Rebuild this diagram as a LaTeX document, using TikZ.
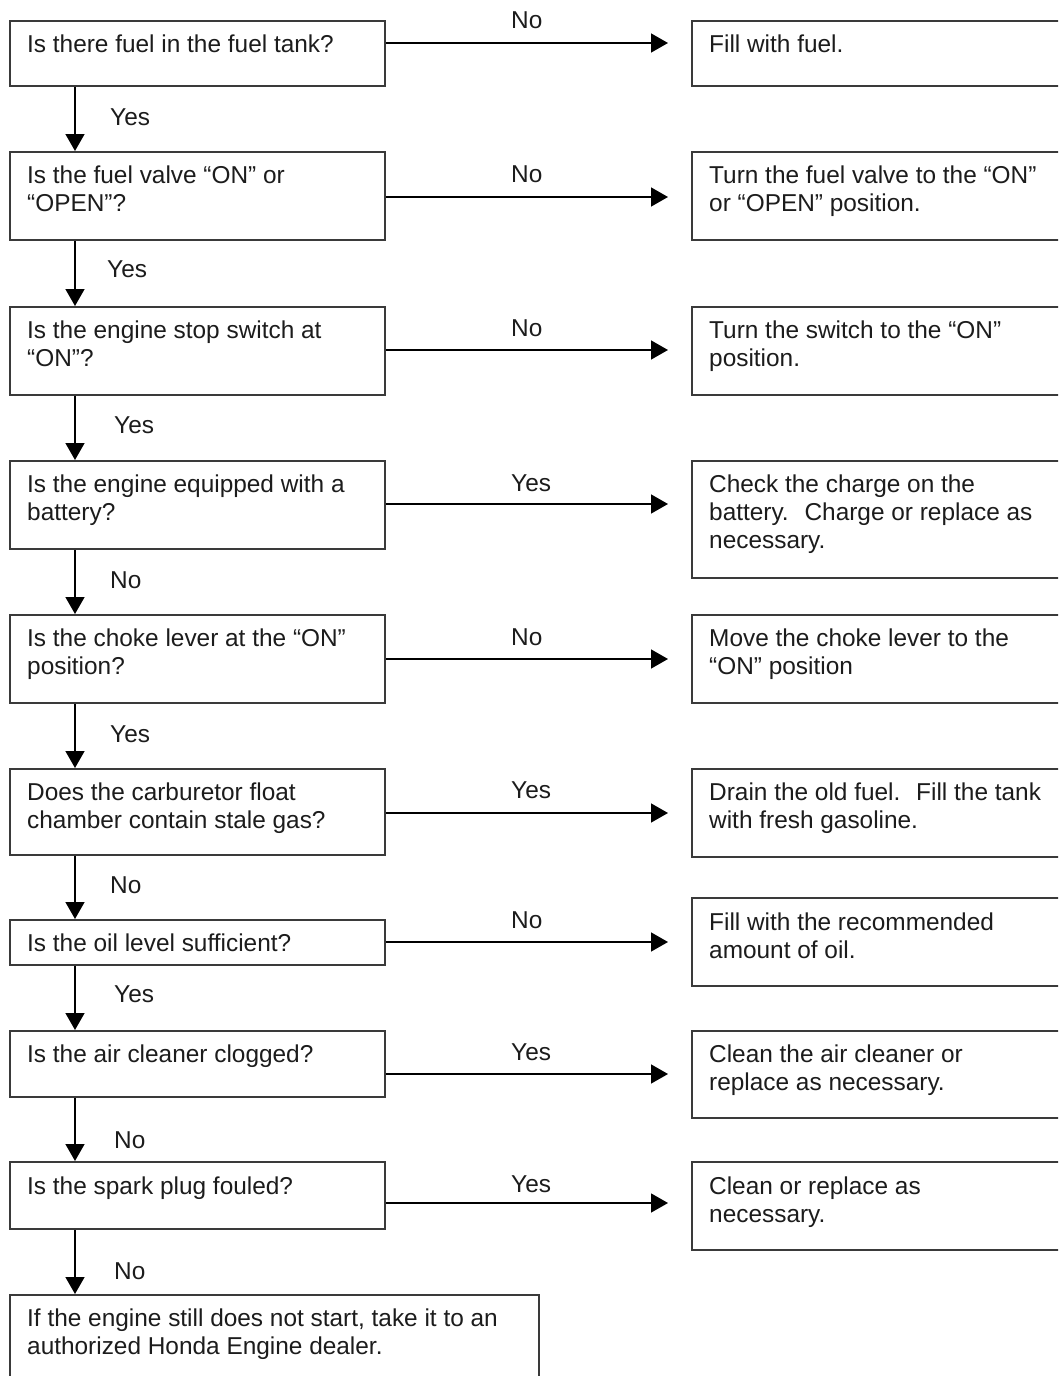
\documentclass[tikz,border=0pt]{standalone}
\usepackage{fontspec}
\setmainfont{Liberation Sans}
\usetikzlibrary{arrows.meta}
\newcommand\flowfont{\fontsize{24.4}{28}\selectfont}
\newcommand\topstrut{\rule{0pt}{20pt}}
\definecolor{bordc}{HTML}{3A3A3A}
\definecolor{txtc}{HTML}{1C1C1C}
\begin{document}
\begin{tikzpicture}[x=1pt,y=-1pt,
  lbox/.style={draw=bordc,line width=1.8pt,anchor=north west,inner sep=0pt,minimum width=375pt},
  rbox/.style={draw=bordc,line width=1.8pt,anchor=north west,inner sep=0pt,minimum width=420pt},
  txt/.style={anchor=north west,inner sep=0pt,align=left,font=\flowfont,text=txtc},
  lbl/.style={anchor=west,inner sep=0pt,font=\flowfont,text=txtc},
  arr/.style={line width=1.5pt,-{Triangle[length=17pt,width=19pt]}}]
\useasboundingbox (0,0) rectangle (1058,1376);
\fill[white] (0,0) rectangle (1058,1376);
\clip (0,0) rectangle (1058,1376);
% left column boxes
\node[lbox,minimum height=65pt] (q1) at (9,20) {};
\node[lbox,minimum height=88pt] (q2) at (9,151) {};
\node[lbox,minimum height=88pt] (q3) at (9,306) {};
\node[lbox,minimum height=88pt] (q4) at (9,460) {};
\node[lbox,minimum height=88pt] (q5) at (9,614) {};
\node[lbox,minimum height=86pt] (q6) at (9,768) {};
\node[lbox,minimum height=45pt] (q7) at (9,919) {};
\node[lbox,minimum height=66pt] (q8) at (9,1030) {};
\node[lbox,minimum height=67pt] (q9) at (9,1161) {};
\node[lbox,minimum width=529pt,minimum height=120pt] (q10) at (9,1294) {};
% right column boxes
\node[rbox,minimum height=65pt] (r1) at (691,20) {};
\node[rbox,minimum height=88pt] (r2) at (691,151) {};
\node[rbox,minimum height=88pt] (r3) at (691,306) {};
\node[rbox,minimum height=117pt] (r4) at (691,460) {};
\node[rbox,minimum height=88pt] (r5) at (691,614) {};
\node[rbox,minimum height=88pt] (r6) at (691,768) {};
\node[rbox,minimum height=88pt] (r7) at (691,897) {};
\node[rbox,minimum height=87pt] (r8) at (691,1030) {};
\node[rbox,minimum height=88pt] (r9) at (691,1161) {};
% texts left
\node[txt] (tq1) at (27,32) {\topstrut Is there fuel in the fuel tank?};
\node[txt] (tq2) at (27,163) {\topstrut Is the fuel valve “ON” or\\“OPEN”?};
\node[txt] (tq3) at (27,318) {\topstrut Is the engine stop switch at\\“ON”?};
\node[txt] (tq4) at (27,472) {\topstrut Is the engine equipped with a\\battery?};
\node[txt] (tq5) at (27,626) {\topstrut Is the choke lever at the “ON”\\position?};
\node[txt] (tq6) at (27,780) {\topstrut Does the carburetor float\\chamber contain stale gas?};
\node[txt] (tq7) at (27,931) {\topstrut Is the oil level sufficient?};
\node[txt] (tq8) at (27,1042) {\topstrut Is the air cleaner clogged?};
\node[txt] (tq9) at (27,1174) {\topstrut Is the spark plug fouled?};
\node[txt] (tq10) at (27,1306) {\topstrut If the engine still does not start, take it to an\\authorized Honda Engine dealer.};
% texts right
\node[txt] (tr1) at (709,32) {\topstrut Fill with fuel.};
\node[txt] (tr2) at (709,163) {\topstrut Turn the fuel valve to the “ON”\\or “OPEN” position.};
\node[txt] (tr3) at (709,318) {\topstrut Turn the switch to the “ON”\\position.};
\node[txt] (tr4) at (709,472) {\topstrut Check the charge on the\\battery.~ Charge or replace as\\necessary.};
\node[txt] (tr5) at (709,626) {\topstrut Move the choke lever to the\\“ON” position};
\node[txt] (tr6) at (709,780) {\topstrut Drain the old fuel.~ Fill the tank\\with fresh gasoline.};
\node[txt] (tr7) at (709,910) {\topstrut Fill with the recommended\\amount of oil.};
\node[txt] (tr8) at (709,1042) {\topstrut Clean the air cleaner or\\replace as necessary.};
\node[txt] (tr9) at (709,1174) {\topstrut Clean or replace as\\necessary.};
% helper coordinates
\coordinate (vx) at (75,0);
\coordinate (h1) at (0,43);
\coordinate (h2) at (0,197);
\coordinate (h3) at (0,350);
\coordinate (h4) at (0,504);
\coordinate (h5) at (0,659);
\coordinate (h6) at (0,813);
\coordinate (h7) at (0,942);
\coordinate (h8) at (0,1074);
\coordinate (h9) at (0,1203);
% horizontal arrows
\foreach \i in {1,...,9}{
  \draw[arr,shorten >=23pt] (q\i.east |- h\i) -- (r\i.west |- h\i);
}
% vertical arrows
\foreach \i/\j in {1/2,2/3,3/4,4/5,5/6,6/7,7/8,8/9,9/10}{
  \draw[arr] (q\i.south -| vx) -- (q\j.north -| vx);
}
% horizontal labels
\node[lbl] (lh1) at (511,20) {No};
\node[lbl] (lh2) at (511,174) {No};
\node[lbl] (lh3) at (511,328) {No};
\node[lbl] (lh4) at (511,483) {Yes};
\node[lbl] (lh5) at (511,637) {No};
\node[lbl] (lh6) at (511,790) {Yes};
\node[lbl] (lh7) at (511,920) {No};
\node[lbl] (lh8) at (511,1052) {Yes};
\node[lbl] (lh9) at (511,1184) {Yes};
% vertical labels
\node[lbl] (lv1) at (110,117) {Yes};
\node[lbl] (lv2) at (107,269) {Yes};
\node[lbl] (lv3) at (114,425) {Yes};
\node[lbl] (lv4) at (110,580) {No};
\node[lbl] (lv5) at (110,734) {Yes};
\node[lbl] (lv6) at (110,885) {No};
\node[lbl] (lv7) at (114,994) {Yes};
\node[lbl] (lv8) at (114,1140) {No};
\node[lbl] (lv9) at (114,1271) {No};
\end{tikzpicture}
\end{document}
